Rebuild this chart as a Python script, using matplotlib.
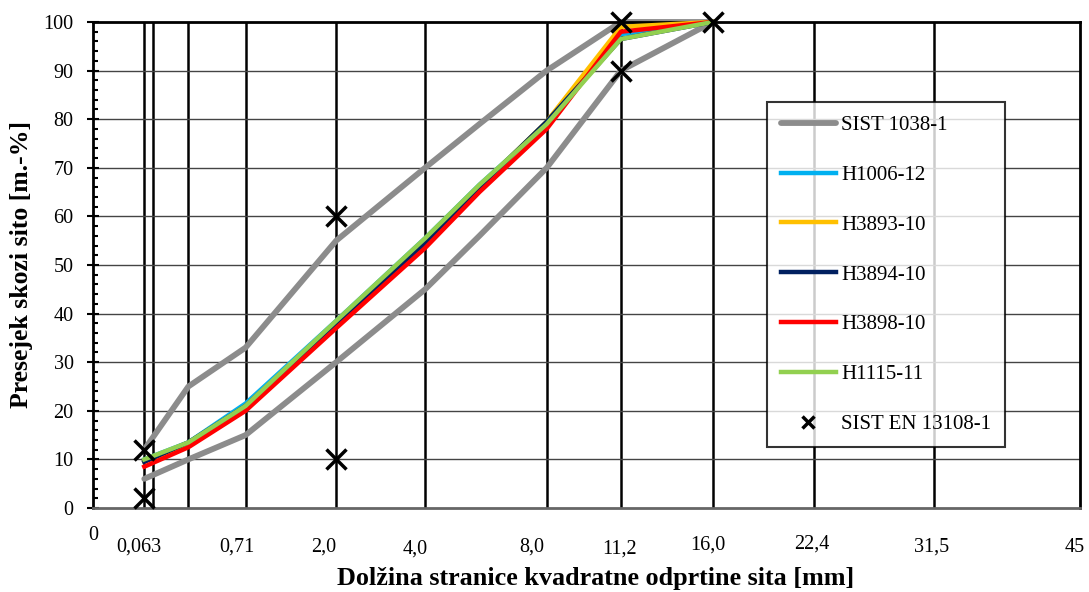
import numpy as np
import matplotlib
matplotlib.use('Agg')
import matplotlib.pyplot as plt
from matplotlib.transforms import ScaledTranslation

plt.rcParams['font.family'] = ['Liberation Serif', 'DejaVu Serif']

# sita [mm]
sieves = [0.063, 0.25, 0.71, 2.0, 4.0, 5.6, 8.0, 11.2, 16.0]
sist_upper = [12, 25, 33, 55, 70, 79, 90, 100, 100]
sist_lower = [6, 10, 15, 30, 45, 56, 70, 90, 100]

h1006_12 = [10, 13.5, 21.5, 38.5, 55.5, 66.5, 79, 97.5, 100]
h3893_10 = [9.5, 13, 21, 38, 55, 66, 79.5, 99, 100]
h3894_10 = [9.5, 13.5, 21, 38, 54.5, 66, 79.5, 96.5, 100]
h3898_10 = [8.5, 12.5, 20, 37, 53.5, 65, 78, 98, 100]
h1115_11 = [10, 13.5, 21, 38.5, 55.5, 66.5, 79, 96.5, 100]

en_x = [0.063, 0.063, 2.0, 2.0, 11.2, 11.2, 16.0]
en_y = [2, 12, 10, 60, 90, 100, 100]

grid_x = [0.063, 0.09, 0.25, 0.71, 2.0, 4.0, 8.0, 11.2, 16.0, 22.4, 31.5]
tick_x = [0, 0.063, 0.71, 2.0, 4.0, 8.0, 11.2, 16.0, 22.4, 31.5, 45]
tick_lab = ['0', '0,063', '0,71', '2,0', '4,0', '8,0', '11,2', '16,0', '22,4', '31,5', '45']
# zamik oznak v pikslih (kot v izvirniku)
lab_dx = [0, -5, -9, -12, -10, -15, -1, -5, -2, -2, -5]
lab_dy = [11, 0, 0, 0, -2, 0, -2, 2, 3, 0, -1]


def fwd(x):
    return np.clip(x, 0, None) ** 0.45


def inv(y):
    return np.clip(y, 0, None) ** (1 / 0.45)


fig = plt.figure(figsize=(10.89, 5.92), dpi=100)
ax = fig.add_axes([93 / 1089, 1 - 508 / 592, (1080 - 93) / 1089, (508 - 22) / 592])
ax.set_xscale('function', functions=(fwd, inv))
ax.set_xlim(0, 45)
ax.set_ylim(0, 100)

for g in grid_x:
    ax.axvline(g, color='black', lw=1.8, zorder=1)
for y in range(10, 100, 10):
    ax.axhline(y, color='#444444', lw=1.0, zorder=1)

ax.plot(sieves, sist_upper, color='#8c8c8c', lw=4.2, solid_capstyle='round', zorder=2,
        clip_on=False, label='SIST 1038-1')
ax.plot(sieves, sist_lower, color='#8c8c8c', lw=4.2, solid_capstyle='round', zorder=2, clip_on=False)
ax.plot(sieves, h1006_12, color='#00b0f0', lw=3.2, zorder=3, clip_on=False, label='H1006-12')
ax.plot(sieves, h3893_10, color='#ffc000', lw=3.2, zorder=3, clip_on=False, label='H3893-10')
ax.plot(sieves, h3894_10, color='#002060', lw=3.2, zorder=3, clip_on=False, label='H3894-10')
ax.plot(sieves, h3898_10, color='#ff0000', lw=3.2, zorder=3, clip_on=False, label='H3898-10')
ax.plot(sieves, h1115_11, color='#92d050', lw=3.2, zorder=3, clip_on=False, label='H1115-11')
ax.plot(en_x, en_y, ls='none', marker='x', color='black', ms=15, mew=2.5, zorder=4,
        clip_on=False, label='SIST EN 13108-1')

ax.set_yticks(range(0, 101, 10))
ax.set_yticks(range(0, 101, 2), minor=True)
ax.tick_params(axis='y', which='major', direction='inout', length=8, width=1.5, labelsize=14.5, pad=10)
ax.tick_params(axis='y', which='minor', direction='in', length=3.5, width=1.5)
ax.set_xticks(tick_x)
ax.set_xticklabels(tick_lab)
ax.xaxis.set_minor_locator(matplotlib.ticker.NullLocator())
ax.tick_params(axis='x', length=0, labelsize=14.5, pad=21)
for lab, dx, dy in zip(ax.get_xticklabels(), lab_dx, lab_dy):
    lab.set_transform(lab.get_transform() + ScaledTranslation(dx / 100, dy / 100, fig.dpi_scale_trans))
for sp in ax.spines.values():
    sp.set_linewidth(2)
ax.spines['bottom'].set_color('#666666')

ax.text(-0.072, 0.5, 'Presejek skozi sito [m.-%]', transform=ax.transAxes, rotation=90,
        ha='center', va='center', fontsize=18.5, fontweight='bold')
ax.text(0.509, -0.145, 'Dolžina stranice kvadratne odprtine sita [mm]', transform=ax.transAxes,
        ha='center', va='center', fontsize=18.8, fontweight='bold')

leg = ax.legend(loc='upper left', bbox_to_anchor=((767 - 93) / 987, 1 - (102 - 22) / 486),
                fontsize=15, frameon=True, fancybox=False, edgecolor='black',
                handlelength=2.65, handletextpad=0.25, labelspacing=1.45, borderpad=0.65,
                markerscale=0.6, borderaxespad=0)
leg.get_frame().set_linewidth(1.5)
leg.set_zorder(5)

fig.savefig('out.png', dpi=100, facecolor='white')
